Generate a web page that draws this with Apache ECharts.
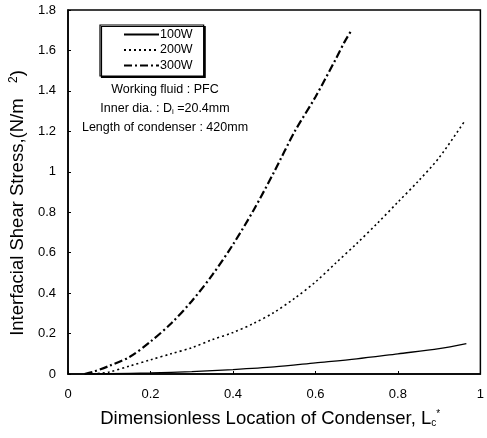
<!DOCTYPE html>
<html>
<head>
<meta charset="utf-8">
<script src="https://cdn.jsdelivr.net/npm/echarts@6/dist/echarts.min.js"></script>
<style>
  html, body { margin: 0; padding: 0; background: #fff; }
  #chart { width: 487px; height: 438px; }
</style>
</head>
<body>
<div id="chart"></div>
<script>
// Interfacial shear stress along the condenser, three heat inputs
const seriesNames = ['100W', '200W', '300W'];

const x100 = [0.05, 0.10, 0.20, 0.30, 0.40, 0.50, 0.60, 0.70, 0.80, 0.90, 0.966];
const y100 = [0.000, 0.002, 0.005, 0.012, 0.022, 0.035, 0.055, 0.075, 0.100, 0.125, 0.150];

const x200 = [0.06, 0.10, 0.15, 0.20, 0.25, 0.30, 0.35, 0.40, 0.45, 0.50, 0.55, 0.60, 0.65, 0.70, 0.75, 0.80, 0.85, 0.90, 0.96];
const y200 = [0.000, 0.010, 0.040, 0.070, 0.100, 0.130, 0.170, 0.205, 0.250, 0.305, 0.375, 0.455, 0.550, 0.645, 0.745, 0.850, 0.955, 1.070, 1.245];

const x300 = [0.04, 0.06, 0.10, 0.15, 0.20, 0.25, 0.30, 0.35, 0.40, 0.45, 0.50, 0.55, 0.60, 0.65, 0.67, 0.686];
const y300 = [0.000, 0.010, 0.040, 0.085, 0.160, 0.250, 0.360, 0.490, 0.640, 0.810, 1.000, 1.200, 1.370, 1.560, 1.640, 1.695];

const xTicks = [0, 0.2, 0.4, 0.6, 0.8, 1];
const yTicks = [0, 0.2, 0.4, 0.6, 0.8, 1, 1.2, 1.4, 1.6, 1.8];

const notes = ['Working fluid : PFC', 'Inner dia. : D{sub|i} =20.4mm', 'Length of condenser : 420mm'];

const pairs = (xs, ys) => xs.map((x, i) => [x, ys[i]]);
const FONT = 'Liberation Sans, Arial, sans-serif';

const chart = echarts.init(document.getElementById('chart'), null, { renderer: 'canvas' });

chart.setOption({
  animation: false,
  backgroundColor: '#fff',
  grid: {
    left: 68, right: 5, top: 10, bottom: 64,
    show: true, borderColor: '#000', borderWidth: 1.5
  },
  legend: {
    data: seriesNames,
    orient: 'vertical',
    left: 100, top: 25,
    itemWidth: 35, itemHeight: 10, itemGap: 0.5,
    padding: [2, 11, 3, 23],
    backgroundColor: '#fff',
    borderColor: '#000', borderWidth: 1.2,
    shadowColor: '#000', shadowBlur: 0, shadowOffsetX: 1.5, shadowOffsetY: 1.5,
    // line-only keys: hide the marker drawn on top of each key line
    itemStyle: { opacity: 0 },
    textStyle: { color: '#000', fontSize: 12.5, lineHeight: 15, fontFamily: FONT, padding: [0, 0, 0, -4] }
  },
  xAxis: {
    type: 'value', min: 0, max: 1, interval: 0.2,
    name: 'Dimensionless Location of Condenser, L{sub|c}{sup|*}',
    nameLocation: 'middle', nameGap: 35,
    nameTextStyle: {
      color: '#000', fontSize: 18.5, fontFamily: FONT,
      padding: [0, 8, 0, 0],
      rich: {
        sub: { fontSize: 10, verticalAlign: 'bottom', padding: [9, 0, 0, 0] },
        sup: { fontSize: 10, verticalAlign: 'top', padding: [0, 0, 9, 0] }
      }
    },
    axisLine: { lineStyle: { color: '#000', width: 1.5 } },
    axisTick: { inside: true, length: 3, lineStyle: { color: '#000' } },
    axisLabel: { color: '#000', fontSize: 13, fontFamily: FONT, margin: 14,
      formatter: v => xTicks.includes(+v.toFixed(1)) ? String(+v.toFixed(1)) : '' },
    splitLine: { show: false }
  },
  yAxis: {
    type: 'value', min: 0, max: 1.8, interval: 0.2,
    name: 'Interfacial Shear Stress,(N/m   {sup|2})',
    nameLocation: 'middle', nameGap: 41, nameRotate: 90,
    nameTextStyle: {
      color: '#000', fontSize: 18.5, fontFamily: FONT,
      padding: [0, 22, 0, 0],
      rich: { sup: { fontSize: 12, verticalAlign: 'top', padding: [0, 0, 7, 0] } }
    },
    axisLine: { lineStyle: { color: '#000', width: 1.5 } },
    axisTick: { inside: true, length: 3, lineStyle: { color: '#000' } },
    axisLabel: { color: '#000', fontSize: 13, fontFamily: FONT, margin: 12,
      formatter: v => yTicks.includes(+v.toFixed(1)) ? String(+v.toFixed(1)) : '' },
    splitLine: { show: false }
  },
  graphic: notes.map((t, i) => ({
    type: 'text',
    x: 165, y: 90 + i * 19,
    style: {
      text: t, fill: '#000', fontSize: 12.5, fontFamily: FONT,
      align: 'center', verticalAlign: 'middle',
      rich: { sub: { fontSize: 8, verticalAlign: 'bottom', padding: [6, 0, 0, 0] } }
    }
  })),
  series: [
    {
      name: '100W', type: 'line', symbol: 'none', smooth: 0.3,
      data: pairs(x100, y100),
      lineStyle: { color: '#000', width: 1.3, type: 'solid' },
      itemStyle: { color: '#000' }
    },
    {
      name: '200W', type: 'line', symbol: 'none', smooth: 0.3,
      data: pairs(x200, y200),
      lineStyle: { color: '#000', width: 1.6, type: [2, 3] },
      itemStyle: { color: '#000' }
    },
    {
      name: '300W', type: 'line', symbol: 'none', smooth: 0.3,
      data: pairs(x300, y300),
      lineStyle: { color: '#000', width: 2.2, type: [8, 3, 2, 3] },
      itemStyle: { color: '#000' }
    }
  ]
});
</script>
</body>
</html>
